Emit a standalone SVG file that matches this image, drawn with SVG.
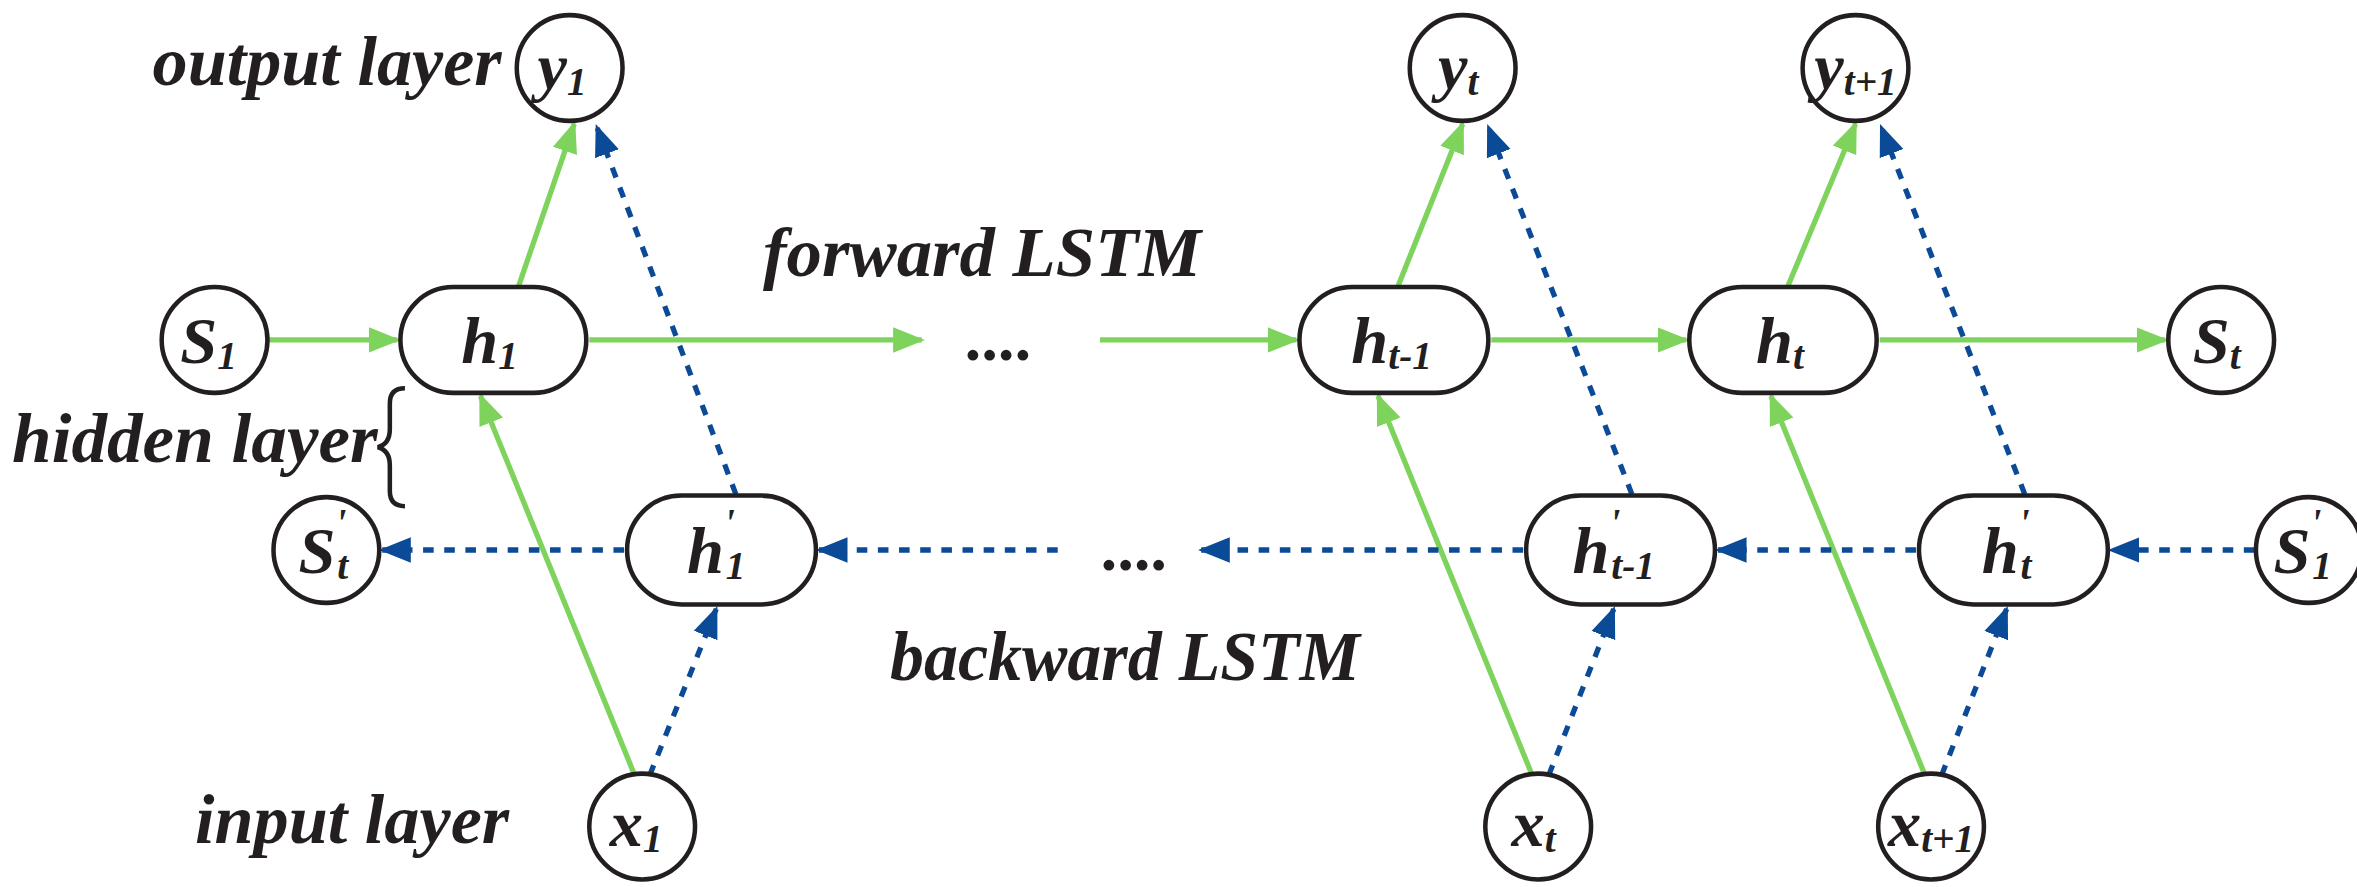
<svg xmlns="http://www.w3.org/2000/svg" width="2357" height="887" viewBox="0 0 2357 887">
<defs>
<style>
.n{fill:#fff;stroke:#231f20;stroke-width:3}
.t{font-family:"Liberation Serif",serif;font-weight:bold;font-style:italic;fill:#231f20}
.lbl{font-size:46px}
.nt{font-size:44px;text-anchor:middle}
.sub{font-size:26px}
.g{stroke:#7ed35c;stroke-width:3.5;fill:none}
.b{stroke:#0b4a96;stroke-width:3.5;fill:none;stroke-dasharray:7 7}
</style>
<marker id="ag" viewBox="0 0 10 10" refX="9" refY="5" markerWidth="6" markerHeight="6" orient="auto" markerUnits="strokeWidth"><path d="M0,1 L10,5 L0,9 z" fill="#7ed35c"/></marker>
<marker id="ab" viewBox="0 0 10 10" refX="9" refY="5" markerWidth="6" markerHeight="6" orient="auto" markerUnits="strokeWidth"><path d="M0,1 L10,5 L0,9 z" fill="#0b4a96"/></marker>
</defs>
<rect width="2357" height="887" fill="#fff"/>
<g transform="scale(1.511)">
<g id="labels" class="t lbl">
<text x="101" y="56" textLength="231" lengthAdjust="spacingAndGlyphs">output layer</text>
<text x="505" y="183" textLength="290" lengthAdjust="spacingAndGlyphs">forward LSTM</text>
<text x="8" y="306" textLength="242" lengthAdjust="spacingAndGlyphs">hidden layer</text>
<text x="589" y="450" textLength="311" lengthAdjust="spacingAndGlyphs">backward LSTM</text>
<text x="129" y="558" textLength="208" lengthAdjust="spacingAndGlyphs">input layer</text>
<path d="M268,257 q-10,0 -10,10 v17 q0,10 -8,12 q8,2 8,12 v17 q0,10 10,10" fill="none" stroke="#231f20" stroke-width="3"/>
<text x="640" y="238" style="font-size:44px">....</text>
<text x="730" y="377" style="font-size:44px">....</text>
</g>
<g id="connectors">
<line class="g" x1="177" y1="225" x2="263" y2="225" marker-end="url(#ag)"/>
<line class="g" x1="390" y1="225" x2="610" y2="225" marker-end="url(#ag)"/>
<line class="g" x1="728" y1="225" x2="858" y2="225" marker-end="url(#ag)"/>
<line class="g" x1="987" y1="225" x2="1116" y2="225" marker-end="url(#ag)"/>
<line class="g" x1="1244" y1="225" x2="1433" y2="225" marker-end="url(#ag)"/>
<line class="g" x1="343" y1="190" x2="380" y2="82" marker-end="url(#ag)"/>
<line class="g" x1="925" y1="190" x2="968" y2="82" marker-end="url(#ag)"/>
<line class="g" x1="1183" y1="190" x2="1228" y2="82" marker-end="url(#ag)"/>
<line class="g" x1="420" y1="513" x2="318" y2="262" marker-end="url(#ag)"/>
<line class="g" x1="1014" y1="513" x2="912" y2="262" marker-end="url(#ag)"/>
<line class="g" x1="1274" y1="513" x2="1172" y2="262" marker-end="url(#ag)"/>
<line class="b" x1="487" y1="327" x2="395" y2="84" marker-end="url(#ab)"/>
<line class="b" x1="1080" y1="327" x2="985" y2="84" marker-end="url(#ab)"/>
<line class="b" x1="1340" y1="327" x2="1245" y2="84" marker-end="url(#ab)"/>
<line class="b" x1="430" y1="513" x2="474" y2="403" marker-end="url(#ab)"/>
<line class="b" x1="1025" y1="513" x2="1068" y2="403" marker-end="url(#ab)"/>
<line class="b" x1="1285" y1="513" x2="1328" y2="403" marker-end="url(#ab)"/>
<line class="b" x1="1492" y1="364" x2="1397" y2="364" marker-end="url(#ab)"/>
<line class="b" x1="1268" y1="364" x2="1137" y2="364" marker-end="url(#ab)"/>
<line class="b" x1="1008" y1="364" x2="795" y2="364" marker-end="url(#ab)"/>
<line class="b" x1="700" y1="364" x2="542" y2="364" marker-end="url(#ab)"/>
<line class="b" x1="413" y1="364" x2="253" y2="364" marker-end="url(#ab)"/>
</g>
<g id="y1"><circle class="n" cx="377" cy="45" r="35"/><text class="t nt" x="372" y="59">y<tspan class="sub" dy="4">1</tspan></text></g>
<g id="yt"><circle class="n" cx="968" cy="45" r="35"/><text class="t nt" x="965" y="59">y<tspan class="sub" dy="4">t</tspan></text></g>
<g id="yt1"><circle class="n" cx="1228" cy="45" r="35"/><text class="t nt" x="1228" y="59">y<tspan class="sub" dy="4">t+1</tspan></text></g>
<g id="S1"><circle class="n" cx="142" cy="225" r="35"/><text class="t nt" x="138" y="240">S<tspan class="sub" dy="4">1</tspan></text></g>
<g id="h1"><rect class="n" x="265" y="190" width="123" height="70" rx="35"/><text class="t nt" x="324" y="240">h<tspan class="sub" dy="4">1</tspan></text></g>
<g id="ht-1"><rect class="n" x="860" y="190" width="125" height="70" rx="35"/><text class="t nt" x="921" y="240">h<tspan class="sub" dy="4">t-1</tspan></text></g>
<g id="ht"><rect class="n" x="1118" y="190" width="124" height="70" rx="35"/><text class="t nt" x="1178" y="240">h<tspan class="sub" dy="4">t</tspan></text></g>
<g id="St"><circle class="n" cx="1470" cy="225" r="35"/><text class="t nt" x="1467" y="240">S<tspan class="sub" dy="4">t</tspan></text></g>
<g id="Spt"><circle class="n" cx="216" cy="364" r="35"/><text class="t nt" x="214" y="379">S<tspan class="sub" dy="-24">'</tspan><tspan class="sub" dx="-6" dy="28">t</tspan></text></g>
<g id="hp1"><rect class="n" x="415" y="328" width="125" height="72" rx="36"/><text class="t nt" x="474" y="379">h<tspan class="sub" dy="-24">'</tspan><tspan class="sub" dx="-6" dy="28">1</tspan></text></g>
<g id="hpt-1"><rect class="n" x="1010" y="328" width="125" height="72" rx="36"/><text class="t nt" x="1068" y="379">h<tspan class="sub" dy="-24">'</tspan><tspan class="sub" dx="-6" dy="28">t-1</tspan></text></g>
<g id="hpt"><rect class="n" x="1270" y="328" width="125" height="72" rx="36"/><text class="t nt" x="1328" y="379">h<tspan class="sub" dy="-24">'</tspan><tspan class="sub" dx="-6" dy="28">t</tspan></text></g>
<g id="Sp1"><circle class="n" cx="1528" cy="364" r="35"/><text class="t nt" x="1524" y="379">S<tspan class="sub" dy="-24">'</tspan><tspan class="sub" dx="-6" dy="28">1</tspan></text></g>
<g id="x1"><circle class="n" cx="425" cy="547" r="35"/><text class="t nt" x="421" y="560">x<tspan class="sub" dy="4">1</tspan></text></g>
<g id="xt"><circle class="n" cx="1018" cy="547" r="35"/><text class="t nt" x="1015" y="560">x<tspan class="sub" dy="4">t</tspan></text></g>
<g id="xt1"><circle class="n" cx="1278" cy="547" r="35"/><text class="t nt" x="1278" y="560">x<tspan class="sub" dy="4">t+1</tspan></text></g>
</g>
</svg>
